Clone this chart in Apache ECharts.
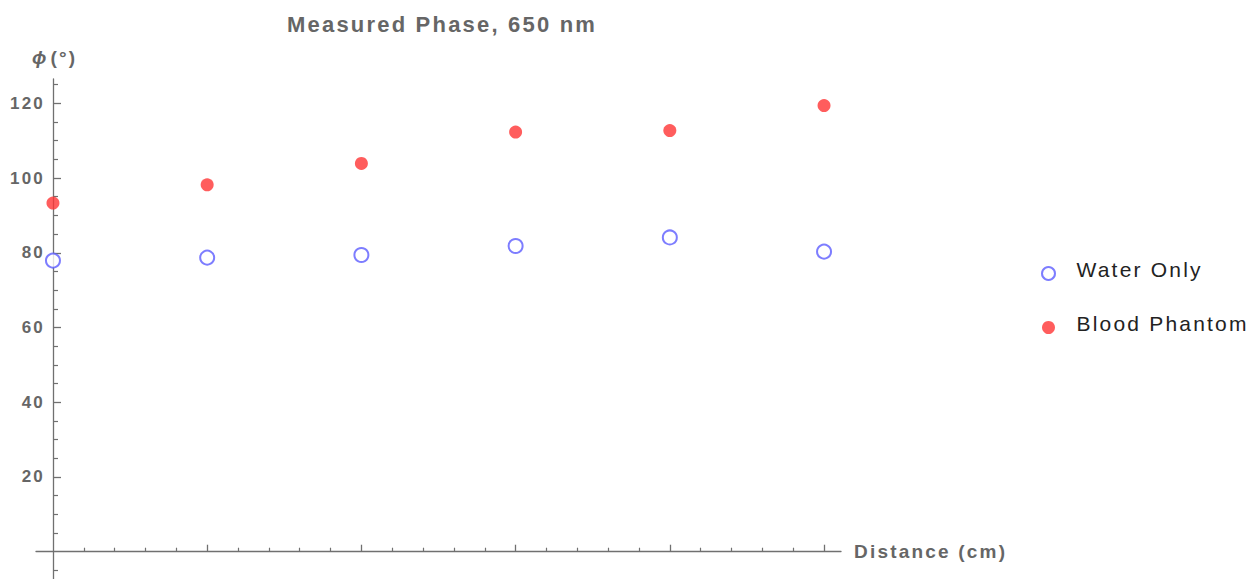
<!DOCTYPE html>
<html>
<head>
<meta charset="utf-8">
<title>Measured Phase, 650 nm</title>
<script src="https://cdn.jsdelivr.net/npm/echarts@6/dist/echarts.min.js"></script>
<style>
  html, body { margin: 0; padding: 0; background: #fff; }
  #myChart { width: 1260px; height: 579px; }
  /* the original plot has loosely spaced lettering */
  #myChart text { letter-spacing: 2.2px; }
</style>
</head>
<body>
<div id="myChart"></div>
<script>
  // distance (cm) and measured phase (degrees)
  var distance = [0, 1, 2, 3, 4, 5];
  var waterOnly = [77.9, 78.7, 79.4, 81.8, 84.1, 80.3];
  var bloodPhantom = [93.3, 98.2, 103.9, 112.3, 112.7, 119.4];

  // ticks
  var xMajorTicks = [1, 2, 3, 4, 5];
  var xMinorTicks = [0.2, 0.4, 0.6, 0.8, 1.2, 1.4, 1.6, 1.8, 2.2, 2.4, 2.6, 2.8,
                     3.2, 3.4, 3.6, 3.8, 4.2, 4.4, 4.6, 4.8];
  var yMajorTicks = [20, 40, 60, 80, 100, 120];
  var yMinorTicks = [-5, 5, 10, 15, 25, 30, 35, 45, 50, 55, 65, 70, 75,
                     85, 90, 95, 105, 110, 115, 125];

  var seriesNames = ['Water Only', 'Blood Phantom'];

  function pairs(ys) {
    return distance.map(function (x, i) { return [x, ys[i]]; });
  }

  var axisGray = '#707070';
  var textGray = '#666';
  var blue = '#5c5cff';
  var red = '#ff3535';
  var font = 'Liberation Sans';
  var xMin = -0.11, xMax = 5.11, yMin = -7.3, yMax = 126.5;
  // y axis sits at x = 0, i.e. this far right of the grid's left edge
  var yShift = -17;

  var myChart = echarts.init(document.getElementById('myChart'), null, {renderer: 'svg'});
  myChart.setOption({
    animation: false,
    title: {
      text: 'Measured Phase, 650 nm',
      left: 282,
      top: 8,
      textStyle: {fontFamily: font, fontSize: 22, fontWeight: 'bold', color: textGray}
    },
    legend: {
      orient: 'vertical',
      left: 1036,
      top: 254,
      itemWidth: 46,
      itemHeight: 13,
      itemGap: 32,
      formatter: '{t|{name}}',
      textStyle: {
        fontFamily: font, fontSize: 21, color: '#222',
        rich: {t: {fontFamily: font, fontSize: 21, color: '#222', padding: [0, 0, 8, 0]}}
      },
      data: [
        {name: seriesNames[0], icon: 'emptyCircle',
         itemStyle: {color: blue, borderColor: blue, borderWidth: 1.5}},
        {name: seriesNames[1], icon: 'circle',
         itemStyle: {color: red, borderWidth: 0}}
      ]
    },
    grid: {left: 36, right: 419, top: 79, bottom: 0, outerBoundsMode: 'none'},
    xAxis: [
      {
        type: 'value', min: xMin, max: xMax,
        name: 'Distance (cm)', nameLocation: 'end', nameGap: 13,
        nameTextStyle: {fontFamily: font, fontSize: 19, fontWeight: 'bold', color: textGray},
        axisLine: {onZero: true, lineStyle: {color: axisGray, width: 1.3}},
        axisTick: {inside: true, length: 7, customValues: xMajorTicks,
                   lineStyle: {color: axisGray, width: 1.3}},
        axisLabel: {customValues: xMajorTicks, margin: 11,
                    fontFamily: font, fontSize: 17, fontWeight: 'bold', color: textGray},
        splitLine: {show: false}
      },
      {
        // minor ticks
        type: 'value', min: xMin, max: xMax, position: 'bottom',
        axisLine: {show: false, onZero: true},
        axisTick: {inside: true, length: 4, customValues: xMinorTicks,
                   lineStyle: {color: axisGray, width: 1.2}},
        axisLabel: {show: false},
        splitLine: {show: false}
      }
    ],
    yAxis: [
      {
        type: 'value', min: yMin, max: yMax, position: 'left', offset: yShift,
        name: '{i|ϕ} (°)', nameLocation: 'end', nameGap: 12,
        nameTextStyle: {fontFamily: font, fontSize: 19, fontWeight: 'bold', color: textGray,
                        rich: {i: {fontFamily: font, fontSize: 19, fontWeight: 'bold',
                                   fontStyle: 'italic', color: textGray}}},
        axisLine: {onZero: false, lineStyle: {color: axisGray, width: 1.3}},
        axisTick: {inside: true, length: 8, customValues: yMajorTicks,
                   lineStyle: {color: axisGray, width: 1.3}},
        axisLabel: {customValues: yMajorTicks, margin: 8,
                    fontFamily: font, fontSize: 17, fontWeight: 'bold', color: textGray},
        splitLine: {show: false}
      },
      {
        // minor ticks
        type: 'value', min: yMin, max: yMax, position: 'left', offset: yShift,
        axisLine: {show: false, onZero: false},
        axisTick: {inside: true, length: 5, customValues: yMinorTicks,
                   lineStyle: {color: axisGray, width: 1.2}},
        axisLabel: {show: false},
        splitLine: {show: false}
      }
    ],
    series: [
      {
        name: seriesNames[0],
        type: 'scatter',
        symbol: 'emptyCircle',
        symbolSize: 14,
        itemStyle: {color: blue, borderColor: blue, borderWidth: 1.5},
        data: pairs(waterOnly)
      },
      {
        name: seriesNames[1],
        type: 'scatter',
        symbol: 'circle',
        symbolSize: 13,
        itemStyle: {color: red},
        data: pairs(bloodPhantom)
      }
    ]
  });
</script>
</body>
</html>
